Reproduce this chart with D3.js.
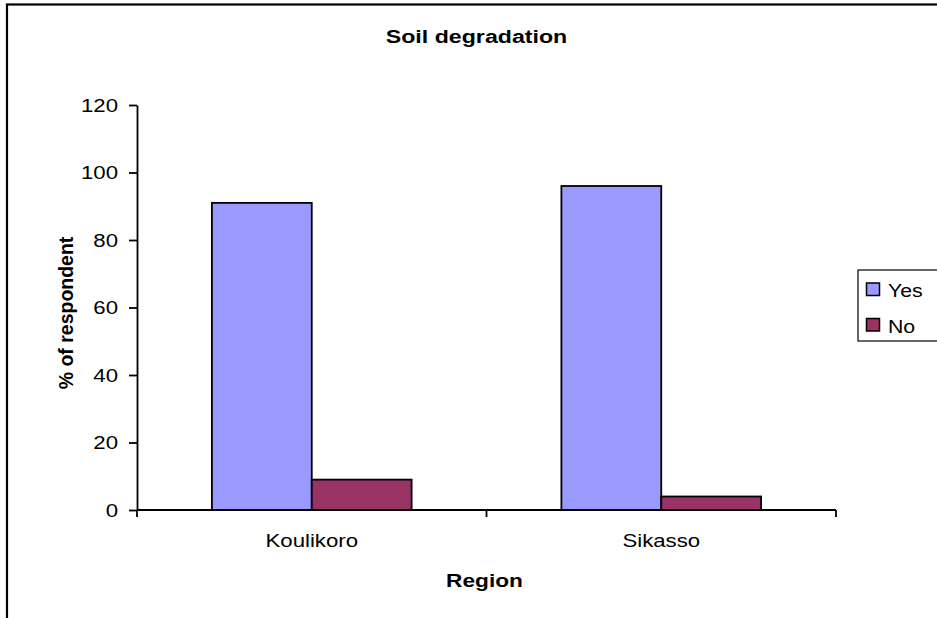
<!DOCTYPE html>
<html>
<head>
<meta charset="utf-8">
<script src="https://cdn.jsdelivr.net/npm/d3@7"></script>
<style>
  html, body { margin: 0; padding: 0; background: #fff; }
  svg { display: block; font-family: Arial, "Liberation Sans", sans-serif; }
</style>
</head>
<body>
<svg id="chart" width="937" height="618"></svg>
<script>
// Survey results: share of respondents reporting soil degradation
const regions = ["Koulikoro", "Sikasso"];
const seriesNames = ["Yes", "No"];
const yesValues = [91, 96];
const noValues = [9, 4];
const yTicks = [0, 20, 40, 60, 80, 100, 120];
const seriesColors = ["#9999ff", "#993366"];

const rows = regions.map((r, i) => ({ region: r, values: [yesValues[i], noValues[i]] }));

const svg = d3.select("#chart");
const W = 937, H = 618;
const plot = { left: 137, right: 836, top: 105, bottom: 510 };
const sx = 1.2; // horizontal text stretch

// outer frame
svg.append("rect")
  .attr("x", 7).attr("y", 4.5)
  .attr("width", W + 20).attr("height", H + 20)
  .attr("fill", "#fff").attr("stroke", "#000").attr("stroke-width", 2.2);

const y = d3.scaleLinear().domain([0, 120]).range([plot.bottom, plot.top]);
const x0 = d3.scaleBand().domain(regions).range([plot.left, plot.right]).padding(0);
const x1 = d3.scaleBand().domain(seriesNames).range([0, x0.bandwidth()])
  .paddingInner(0).paddingOuter(0.75);

function stretchedText(g, x, yy, str, opts) {
  return g.append("text")
    .attr("transform", `translate(${x},${yy}) scale(${opts.sx || sx},1)` + (opts.rotate ? ` rotate(${opts.rotate})` : ""))
    .attr("text-anchor", opts.anchor || "middle")
    .attr("font-size", opts.size || 18.5)
    .attr("font-weight", opts.bold ? "bold" : "normal")
    .attr("fill", "#000")
    .text(str);
}

// bars
const groups = svg.append("g").selectAll("g").data(rows).join("g")
  .attr("transform", d => `translate(${x0(d.region)},0)`);
groups.selectAll("rect")
  .data(d => d.values.map((v, i) => ({ key: seriesNames[i], value: v, i })))
  .join("rect")
  .attr("x", d => x1(d.key))
  .attr("y", d => y(d.value))
  .attr("width", x1.bandwidth())
  .attr("height", d => y(0) - y(d.value))
  .attr("fill", d => seriesColors[d.i])
  .attr("stroke", "#000")
  .attr("stroke-width", 1.8);

// y axis
const yAxis = svg.append("g")
  .attr("transform", `translate(${plot.left},0)`)
  .call(d3.axisLeft(y).tickValues(yTicks).tickSize(8).tickSizeOuter(0).tickFormat(""));
yAxis.selectAll("path, line").attr("stroke", "#000").attr("stroke-width", 1.8);
yTicks.forEach(v => stretchedText(svg, 118, y(v) + 6.5, String(v), { anchor: "end" }));

// x axis
svg.append("line")
  .attr("x1", plot.left).attr("x2", plot.right)
  .attr("y1", y(0)).attr("y2", y(0))
  .attr("stroke", "#000").attr("stroke-width", 1.8);
const xTickPos = regions.map(r => x0(r)).concat([x0.range()[1]]);
svg.append("g").selectAll("line").data(xTickPos).join("line")
  .attr("x1", d => d).attr("x2", d => d)
  .attr("y1", y(0)).attr("y2", y(0) + 7)
  .attr("stroke", "#000").attr("stroke-width", 1.8);
regions.forEach(r => stretchedText(svg, x0(r) + x0.bandwidth() / 2, 547, r, {}));

// titles
stretchedText(svg, 476.5, 42.5, "Soil degradation", { bold: true, size: 19, sx: 1.22 });
stretchedText(svg, 484.5, 587, "Region", { bold: true, size: 18, sx: 1.26 });
stretchedText(svg, 73, 313, "% of respondent", { bold: true, size: 19.5, rotate: -90, sx: 1.05 });

// legend
const lg = svg.append("g");
lg.append("rect").attr("x", 858).attr("y", 270).attr("width", 100).attr("height", 71)
  .attr("fill", "#fff").attr("stroke", "#000").attr("stroke-width", 1.2);
const legendY = [283, 318.5];
seriesNames.forEach((s, i) => {
  lg.append("rect").attr("x", 866.5).attr("y", legendY[i])
    .attr("width", 13).attr("height", 12.5)
    .attr("fill", seriesColors[i]).attr("stroke", "#000").attr("stroke-width", 1.5);
  stretchedText(lg, 888, legendY[i] + 14, s, { anchor: "start", sx: 1.15 });
});
</script>
</body>
</html>
